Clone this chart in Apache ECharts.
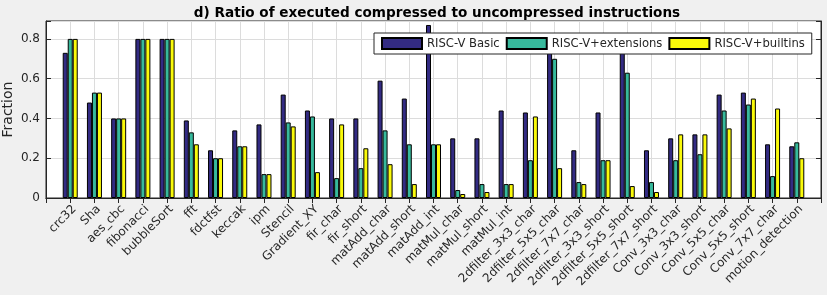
<!DOCTYPE html>
<html>
<head>
<meta charset="utf-8">
<script src="https://cdn.jsdelivr.net/npm/echarts@6/dist/echarts.min.js"></script>
<style>
html,body{margin:0;padding:0;background:#f0f0f0;}
#chart{width:827px;height:295px;}
</style>
</head>
<body>
<div id="chart"></div>
<script>
var categories = ['crc32','Sha','aes_cbc','fibonacci','bubbleSort','fft','fdctfst','keccak','ipm','Stencil','Gradient_XY','fir_char','fir_short','matAdd_char','matAdd_short','matAdd_int','matMul_char','matMul_short','matMul_int','2dfilter_3x3_char','2dfilter_5x5_char','2dfilter_7x7_char','2dfilter_3x3_short','2dfilter_5x5_short','2dfilter_7x7_short','Conv_3x3_char','Conv_3x3_short','Conv_5x5_char','Conv_5x5_short','Conv_7x7_char','motion_detection'];
var basic      = [0.73,0.48,0.40,0.80,0.80,0.39,0.24,0.34,0.37,0.52,0.44,0.40,0.40,0.59,0.50,0.87,0.30,0.30,0.44,0.43,0.80,0.24,0.43,0.80,0.24,0.30,0.32,0.52,0.53,0.27,0.26];
var extensions = [0.80,0.53,0.40,0.80,0.80,0.33,0.20,0.26,0.12,0.38,0.41,0.10,0.15,0.34,0.27,0.27,0.04,0.07,0.07,0.19,0.70,0.08,0.19,0.63,0.08,0.19,0.22,0.44,0.47,0.11,0.28];
var builtins   = [0.80,0.53,0.40,0.80,0.80,0.27,0.20,0.26,0.12,0.36,0.13,0.37,0.25,0.17,0.07,0.27,0.02,0.03,0.07,0.41,0.15,0.07,0.19,0.06,0.03,0.32,0.32,0.35,0.50,0.45,0.20];
var seriesNames = ['RISC-V Basic','RISC-V+extensions','RISC-V+builtins'];
var colors = ['#332B83','#37B99C','#FAFA0A'];
var yTicks = [0, 0.2, 0.4, 0.6, 0.8];

function pad(arr){ return ['-'].concat(arr, ['-']); }
var cats = [''].concat(categories, ['']);
var txt = '#262626';
var font = 'DejaVu Sans';

var chart = echarts.init(document.getElementById('chart'), null, {renderer:'canvas'});
var baseX = {
  type:'category', data:cats, boundaryGap:false,
  axisLine:{show:true, lineStyle:{color:txt, width:1}},
  axisTick:{show:true, inside:true, length:5, interval:0, lineStyle:{color:txt}},
  splitLine:{show:false}
};
var baseY = {
  type:'value', min:0, max:0.89, interval:0.2,
  axisLine:{show:true, lineStyle:{color:txt, width:1}},
  axisTick:{show:true, inside:true, length:5, lineStyle:{color:txt}},
  splitLine:{show:false}
};
function isTick(v){ return yTicks.some(function(t){return Math.abs(t-v)<1e-6;}); }

chart.setOption({
  backgroundColor:'#f0f0f0',
  animation:false,
  title:{
    text:'d) Ratio of executed compressed to uncompressed instructions',
    left:432, top:1, textAlign:'center',
    textStyle:{fontFamily:font, fontSize:13.6, fontWeight:'bold', color:'#000'}
  },
  grid:{left:46, right:6, top:21, bottom:97, containLabel:false, outerBoundsMode:'none',
        show:true, backgroundColor:'#fff', borderColor:txt, borderWidth:1},
  legend:{
    left:374, top:33, padding:[4,7], itemGap:6, itemWidth:40, itemHeight:11,
    backgroundColor:'#fff', borderColor:txt, borderWidth:1, borderRadius:0,
    textStyle:{fontFamily:font, fontSize:11.6, color:txt},
    data:seriesNames.map(function(n){return {name:n, icon:'rect'};})
  },
  xAxis:[
    Object.assign({}, baseX, {
      position:'bottom',
      splitLine:{show:true, interval:0, lineStyle:{color:'#dcdcdc', width:1}},
      axisLabel:{interval:0, rotate:45, margin:5, verticalAlign:'top', fontFamily:font, fontSize:12, color:txt}
    }),
    Object.assign({}, baseX, {position:'top', axisLabel:{show:false}})
  ],
  yAxis:[
    Object.assign({}, baseY, {
      position:'left',
      name:'Fraction', nameLocation:'middle', nameGap:31, nameRotate:90, nameMoveOverlap:false,
      nameTextStyle:{fontFamily:font, fontSize:14, color:txt},
      splitLine:{show:true, lineStyle:{color:'#dcdcdc', width:1}},
      axisLabel:{fontFamily:font, fontSize:12, color:txt, margin:6,
        formatter:function(v){ return isTick(v) ? String(Math.round(v*10)/10) : ''; }}
    }),
    Object.assign({}, baseY, {position:'right', axisLabel:{show:false}})
  ],
  series:[basic, extensions, builtins].map(function(d,i){
    return {
      name:seriesNames[i], type:'bar', xAxisIndex:0, yAxisIndex:0,
      data:pad(d), barWidth:5, barGap:'0%',
      itemStyle:{color:colors[i], borderColor:'#000', borderWidth:1},
      emphasis:{disabled:true}
    };
  })
});
</script>
</body>
</html>
